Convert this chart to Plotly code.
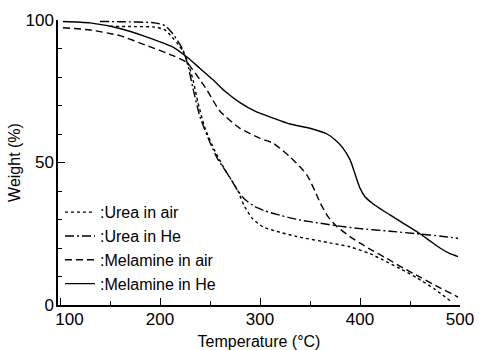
import plotly.graph_objects as go

# Temperature (°C) / Weight (%)
urea_air_T = [150, 170, 195, 205, 212, 218, 223, 228, 233, 238, 245, 255, 265, 272, 278, 284, 292, 303, 315, 337, 370, 390, 410, 423, 440, 457, 475, 490]
urea_air_W = [97.8, 97.7, 97.5, 96.5, 94, 91.5, 89, 85, 79, 71, 62, 54, 47.4, 43.5, 40, 35, 30.5, 27.4, 26, 24, 21.8, 20.4, 18, 15.8, 12.8, 9.5, 5.5, 1.5]

urea_he_T = [140, 160, 195, 205, 212, 218, 223, 228, 233, 240, 250, 258, 265, 272, 278, 285, 295, 305, 320, 337, 360, 377, 400, 430, 460, 480, 498]
urea_he_W = [99.5, 99.4, 99, 98, 95.5, 92.5, 89.5, 84, 76, 66, 57, 51, 47.4, 43.5, 40, 37, 34.5, 33, 31.5, 30, 28.7, 27.8, 26.8, 25.9, 24.9, 24.2, 23.4]

mel_air_T = [103, 130, 160, 187, 213, 227, 240, 247, 260, 280, 300, 313, 320, 330, 340, 347, 355, 360, 368, 377, 390, 400, 413, 427, 443, 460, 480, 498]
mel_air_W = [97.3, 96.5, 94.5, 91, 87.5, 85, 79, 75.4, 68, 62, 58.5, 56.8, 55, 52, 48.5, 45.6, 40, 36, 31, 27.5, 24, 21.7, 19, 16.3, 13, 9.8, 6, 2.8]

mel_he_T = [103, 130, 160, 187, 213, 227, 240, 253, 265, 280, 295, 313, 330, 350, 367, 375, 382, 390, 395, 400, 405, 415, 430, 445, 460, 470, 480, 490, 498]
mel_he_W = [99.5, 99, 97, 94, 90.5, 87, 83, 79, 75, 71, 68, 65.6, 63.5, 62, 60, 58, 55.5, 51, 46, 41, 38, 35, 31.6, 28.3, 25, 22.5, 20, 18, 17]

series = [
    (":Urea in air", urea_air_T, urea_air_W, "dot"),
    (":Urea in He", urea_he_T, urea_he_W, "9px,3px,2px,3px"),
    (":Melamine in air", mel_air_T, mel_air_W, "7px,4px"),
    (":Melamine in He", mel_he_T, mel_he_W, "solid"),
]

x_ticks = [100, 200, 300, 400, 500]
x_ticktext = ["\u00a0\u00a0\u00a0\u00a0100", "200", "300", "400", "500"]
y_ticks = [0, 50, 100]

FONT = "Liberation Sans"

fig = go.Figure()
for i, (name, T, W, dash) in enumerate(series):
    fig.add_trace(go.Scatter(
        x=T, y=W, mode="lines", name=name, legendgroup=f"g{i}",
        line=dict(color="black", width=1.4, dash=dash, shape="spline", smoothing=0.6),
    ))

fig.update_layout(
    width=479, height=350,
    margin=dict(l=58, r=19, t=20, b=45),
    paper_bgcolor="white", plot_bgcolor="white",
    font=dict(family=FONT, color="black", size=15),
    showlegend=True,
    legend=dict(
        x=0.005, y=0.385, xanchor="left", yanchor="top",
        bgcolor="rgba(0,0,0,0)", font=dict(size=16, family=FONT),
        tracegroupgap=0, itemwidth=30,
    ),
    xaxis=dict(
        range=[98, 500], showgrid=False, zeroline=False, automargin=False,
        showline=True, linecolor="black", linewidth=1.5,
        tickmode="array", tickvals=x_ticks, ticktext=x_ticktext,
        ticks="inside", ticklen=7, tickwidth=1.3, tickcolor="black",
        minor=dict(ticks="inside", dtick=50, tick0=0, ticklen=4, tickwidth=1.2, tickcolor="black"),
        tickfont=dict(size=17), ticklabelstandoff=-2,
        title=dict(text="Temperature (°C)", font=dict(size=16)),
    ),
    yaxis=dict(
        range=[0, 100], showgrid=False, zeroline=False, automargin=True,
        showline=True, linecolor="black", linewidth=1.5,
        tickmode="array", tickvals=y_ticks,
        ticks="inside", ticklen=7, tickwidth=1.3, tickcolor="black",
        minor=dict(ticks="inside", dtick=10, tick0=0, ticklen=4, tickwidth=1.2, tickcolor="black"),
        tickfont=dict(size=17), ticklabelstandoff=-1,
        title=dict(text="Weight (%)", font=dict(size=16), standoff=1),
    ),
)

fig.write_html("out.html")
